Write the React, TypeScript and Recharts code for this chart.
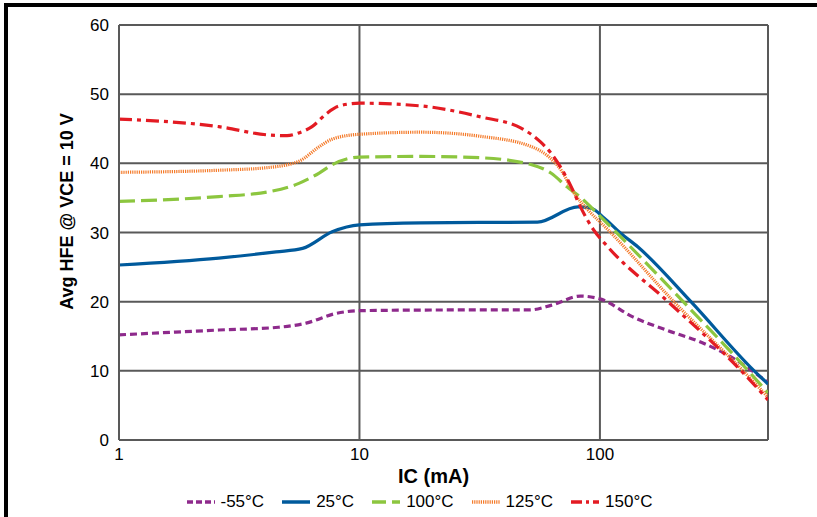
import React from 'react';
import { LineChart, Line, XAxis, YAxis, CartesianGrid, Legend, Label } from 'recharts';

const FONT = '"Liberation Sans", Arial, sans-serif';
const GRID = '#595959';

// IC (mA) sample points and Avg HFE, one pair per series
const icM55 = [1, 2.6, 4.6, 6, 8, 10, 25, 51, 63, 83, 100, 137, 192, 265, 351, 426, 500];
const hfeM55 = [15.2, 15.9, 16.3, 16.9, 18.3, 18.7, 18.8, 18.8, 19.5, 20.8, 20.4, 17.8, 15.8, 14.1, 12.0, 10.1, 8.3];

const ic25 = [1, 2.6, 4.5, 5.8, 7.7, 10, 18, 55, 81, 92, 104, 122, 144, 239, 438, 500];
const hfe25 = [25.3, 26.3, 27.2, 27.7, 30.1, 31.1, 31.4, 31.5, 33.7, 33.5, 32.1, 29.9, 27.9, 20.0, 10.0, 8.1];

const ic100 = [1, 2.6, 4.2, 5.6, 6.8, 7.7, 10, 18, 32, 52, 62.5, 73, 83, 94, 114, 222, 414, 500];
const hfe100 = [34.5, 35.2, 35.9, 37.1, 38.6, 39.8, 40.9, 41.0, 40.8, 39.8, 38.6, 36.6, 35.1, 33.3, 30.4, 20.0, 10.0, 6.8];

const ic125 = [1, 2.6, 4.2, 5.6, 6.8, 7.7, 10, 18, 32, 52, 61, 69, 78, 89, 108, 203, 394, 500];
const hfe125 = [38.7, 39.0, 39.4, 40.3, 42.4, 43.5, 44.2, 44.5, 43.9, 42.4, 41.0, 39.0, 35.7, 33.3, 30.4, 20.0, 10.0, 6.2];

const ic150 = [1, 2.6, 4.2, 5, 5.6, 6.35, 7.3, 8.25, 10, 18, 32, 47, 56.6, 62.5, 69, 76, 83, 94, 108, 192, 387, 500];
const hfe150 = [46.4, 45.3, 44.1, 44.0, 44.4, 45.3, 47.2, 48.3, 48.7, 48.3, 46.7, 45.1, 43.1, 41.5, 39.3, 36.6, 33.7, 30.4, 27.9, 20.0, 10.0, 5.8];

const xTicks = [1, 10, 100];
const yTicks = [0, 10, 20, 30, 40, 50, 60];

const toPoints = (xs: number[], ys: number[]) => xs.map((ic, i) => ({ ic, hfe: ys[i] }));

const series = [
  { name: '-55°C', data: toPoints(icM55, hfeM55), color: '#8E2A8C', dash: '7 4', legendDash: '6 3' },
  { name: '25°C', data: toPoints(ic25, hfe25), color: '#005A9C', dash: undefined, legendDash: undefined },
  { name: '100°C', data: toPoints(ic100, hfe100), color: '#8CC63F', dash: '16 6', legendDash: '14 6' },
  { name: '125°C', data: toPoints(ic125, hfe125), color: '#F47B2B', dash: '1.2 1', legendDash: '1.2 1' },
  { name: '150°C', data: toPoints(ic150, hfe150), color: '#E31B23', dash: '13 5 4 5', legendDash: '11 4 3 4' },
];

function LegendContent() {
  return (
    <div style={{ display: 'flex', justifyContent: 'center', alignItems: 'center', fontFamily: FONT, fontSize: 17, color: '#000' }}>
      {series.map((s) => (
        <div key={s.name} style={{ display: 'flex', alignItems: 'center', margin: '0 9px' }}>
          <svg width={28} height={6} style={{ marginRight: 6 }}>
            <line x1={0} y1={3} x2={28} y2={3} stroke={s.color} strokeWidth={3.5} strokeDasharray={s.legendDash} />
          </svg>
          <span>{s.name}</span>
        </div>
      ))}
    </div>
  );
}

export default function App() {
  return (
    <div style={{ position: 'absolute', left: 0, top: 0, width: 817, height: 517, background: '#fff' }}>
      <LineChart width={817} height={517} margin={{ top: 25, right: 49, bottom: 47, left: 59 }}>
        <CartesianGrid stroke={GRID} strokeWidth={2} vertical horizontal />
        <XAxis
          dataKey="ic"
          type="number"
          scale="log"
          domain={[1, 500]}
          ticks={xTicks}
          allowDataOverflow
          height={30}
          tickLine={false}
          tickSize={0}
          tickMargin={8}
          axisLine={{ stroke: GRID, strokeWidth: 2 }}
          tick={{ fill: '#000', fontSize: 17, fontFamily: FONT }}
        >
          <Label
            content={(props: any) => {
              const vb = props.viewBox || { x: 119, width: 649, y: 440 };
              return (
                <text x={vb.x + vb.width / 2 - 10} y={476} textAnchor="middle" dominantBaseline="central"
                  fontFamily={FONT} fontSize={20} fontWeight="bold" fill="#000">IC (mA)</text>
              );
            }}
          />
        </XAxis>
        <YAxis
          type="number"
          domain={[0, 60]}
          ticks={yTicks}
          width={60}
          tickLine={false}
          tickSize={0}
          tickMargin={10}
          axisLine={{ stroke: GRID, strokeWidth: 2 }}
          tick={{ fill: '#000', fontSize: 17, fontFamily: FONT }}
        >
          <Label
            content={(props: any) => {
              const vb = props.viewBox || { x: 59, y: 25, width: 60, height: 415 };
              const cx = 67;
              const cy = vb.y + vb.height / 2 - 21;
              return (
                <text x={cx} y={cy} transform={`rotate(-90 ${cx} ${cy})`} textAnchor="middle" dominantBaseline="central"
                  fontFamily={FONT} fontSize={18} fontWeight="bold" fill="#000">Avg HFE @ VCE = 10 V</text>
              );
            }}
          />
        </YAxis>
        <Legend
          verticalAlign="middle"
          align="center"
          layout="horizontal"
          content={() => <LegendContent />}
          wrapperStyle={{ top: 492, left: 11, width: 817, height: 22 }}
        />
        {series.map((s) => (
          <Line
            key={s.name}
            name={s.name}
            data={s.data}
            dataKey="hfe"
            type="monotone"
            stroke={s.color}
            strokeWidth={3.2}
            strokeDasharray={s.dash}
            dot={false}
            activeDot={false}
            isAnimationActive={false}
          />
        ))}
      </LineChart>
      <div style={{ position: 'absolute', left: 4, top: 3, width: 813, height: 514, borderTop: '4px solid #000', borderLeft: '4px solid #000', boxSizing: 'border-box', pointerEvents: 'none' }} />
    </div>
  );
}
